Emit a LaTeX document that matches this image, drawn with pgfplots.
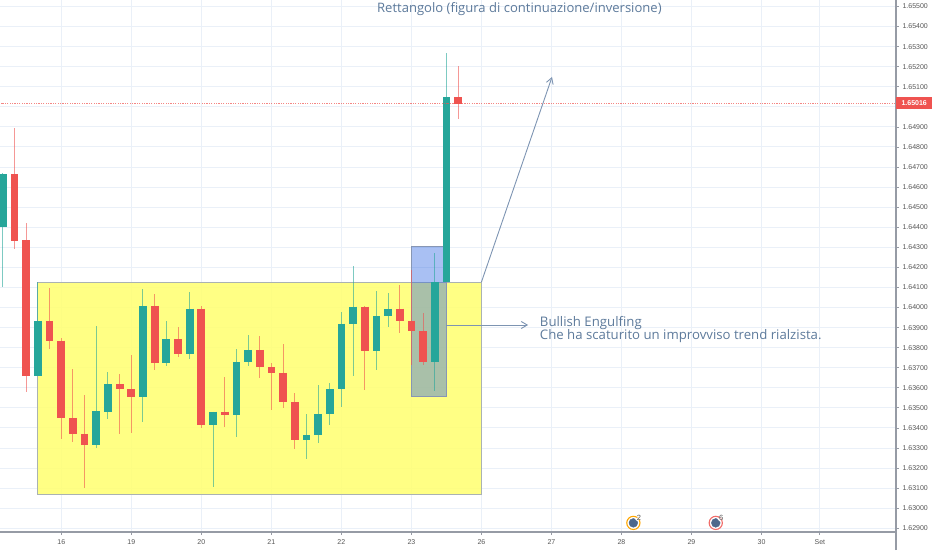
\documentclass[border=0pt]{standalone}
\usepackage{pgfplots}
\usepackage{pgfplotstable}
\usepackage{fontspec}
\setmainfont{Liberation Sans}
\newfontfamily\notefont{Open Sans}
\pgfplotsset{compat=1.18}
\usetikzlibrary{arrows.meta}
\definecolor{upc}{RGB}{38,166,154}
\definecolor{dnc}{RGB}{239,83,80}
\definecolor{gridc}{RGB}{234,240,248}
\definecolor{axc}{RGB}{150,155,165}
\definecolor{tickc}{RGB}{85,85,85}
\definecolor{notec}{RGB}{93,122,155}
\definecolor{arrowc}{RGB}{125,148,178}
\definecolor{rectc}{RGB}{170,178,178}
\definecolor{bluec}{RGB}{135,150,180}
\definecolor{yel}{RGB}{255,255,115}
\definecolor{blu}{RGB}{41,98,225}
\definecolor{moon}{RGB}{77,104,140}
\pgfplotstableread{
x top bot hi lo
-5 1.64665 1.64403 1.64669 1.64101
-2 1.63934 1.63660 1.64127 1.63660
3 1.63483 1.63314 1.63910 1.63302
4 1.63618 1.63481 1.63677 1.63443
7 1.64008 1.63556 1.64091 1.63428
9 1.63843 1.63722 1.63932 1.63710
11 1.63994 1.63769 1.64076 1.63742
13 1.63481 1.63415 1.63481 1.63107
15 1.63727 1.63465 1.63793 1.63356
16 1.63789 1.63727 1.63862 1.63709
21 1.63365 1.63340 1.63468 1.63247
22 1.63470 1.63365 1.63614 1.63327
23 1.63594 1.63470 1.63623 1.63413
24 1.63920 1.63594 1.63979 1.63503
25 1.64004 1.63920 1.64207 1.63660
27 1.63956 1.63785 1.64081 1.63690
28 1.63994 1.63956 1.64071 1.63903
32 1.64126 1.63729 1.64270 1.63584
33 1.65048 1.64126 1.65270 1.64126
}\upt
\pgfplotstableread{
x top bot hi lo
-4 1.64664 1.64333 1.64893 1.64292
-3 1.64335 1.63660 1.64423 1.63581
-1 1.63934 1.63833 1.64099 1.63792
0 1.63835 1.63448 1.63847 1.63345
1 1.63450 1.63368 1.63692 1.63329
2 1.63370 1.63314 1.63566 1.63099
5 1.63618 1.63594 1.63667 1.63371
6 1.63594 1.63556 1.63762 1.63375
8 1.64008 1.63724 1.64069 1.63689
10 1.63843 1.63769 1.63902 1.63752
12 1.63994 1.63415 1.64006 1.63401
14 1.63481 1.63465 1.63652 1.63403
17 1.63789 1.63702 1.63857 1.63648
18 1.63702 1.63675 1.63722 1.63491
19 1.63675 1.63529 1.63817 1.63501
20 1.63529 1.63340 1.63576 1.63294
26 1.64004 1.63785 1.64008 1.63589
29 1.63994 1.63933 1.64112 1.63875
30 1.63933 1.63882 1.64187 1.63714
31 1.63882 1.63729 1.63974 1.63714
34 1.65048 1.65016 1.65204 1.64938
}\dnt
\newcommand{\candles}[2]{%
 \addplot[draw=none,mark=none,forget plot,error bars/.cd,y dir=both,y explicit,error mark=none,
   error bar style={#2,line width=1pt,opacity=.6}]
   table[x=x,y=top,y error plus expr=\thisrow{hi}-\thisrow{top},y error minus expr=\thisrow{top}-\thisrow{lo}]{#1};
 \addplot[draw=none,mark=none,forget plot,error bars/.cd,y dir=minus,y explicit,error mark=none,
   error bar style={#2,line width=7.7pt}]
   table[x=x,y=top,y error minus expr=\thisrow{top}-\thisrow{bot}]{#1};
}
\begin{document}
\begin{tikzpicture}[x=1pt,y=1pt]
\useasboundingbox (0,0) rectangle (932,550);
\begin{axis}[
 at={(0pt,18pt)},anchor=south west,scale only axis,width=896pt,height=532pt,
 xmin=-5.253,xmax=71.525,ymin=1.628816,ymax=1.655323,
 axis x line=bottom,axis y line=right,axis line style={-,axc,line width=1.2pt},
 clip mode=individual,
 grid=both,major grid style={gridc,line width=1pt},
 xtick={0,6,12,18,24,30,36,42,48,54,60,65},
 xticklabels={16,19,20,21,22,23,26,27,28,29,30,Set},
 ytick={1.629,1.630,1.631,1.632,1.633,1.634,1.635,1.636,1.637,1.638,1.639,1.640,1.641,1.642,1.643,1.644,1.645,1.646,1.647,1.648,1.649,1.650,1.651,1.652,1.653,1.654,1.655},
 scaled y ticks=false,
 yticklabel style={/pgf/number format/.cd,fixed,fixed zerofill,precision=5,assume math mode=true},
 ticklabel style={font=\fontsize{7}{8}\selectfont,text=tickc},
 tick style={axc,line width=.8pt},
 tick align=outside,major tick length=3pt,
 xticklabel shift=1pt,yticklabel shift=0pt,
]
\addplot[fill=yel,fill opacity=.88,draw=rectc,line width=1pt,forget plot] coordinates {(-2.04,1.63068)(36,1.63068)(36,1.64127)(-2.04,1.64127)} --cycle;
\addplot[fill=blu,fill opacity=.4,draw=bluec,line width=1pt,forget plot] coordinates {(29.99,1.63559)(33,1.63559)(33,1.64302)(29.99,1.64302)} --cycle;
\candles{\upt}{upc}
\candles{\dnt}{dnc}
\addplot[draw=none,mark=none,forget plot,error bars/.cd,x dir=both,x explicit,error mark=none,
  error bar style={dnc,line width=.8pt,opacity=.7,dash pattern=on 1.2pt off 1.2pt}]
  coordinates {(33.1,1.65016) +- (38.3,0)};
\addplot[draw=arrowc,line width=.9pt,-{Straight Barb[length=6pt,width=7pt]},forget plot] coordinates {(36,1.64127)(42.05,1.65149)};
\addplot[draw=arrowc,line width=.9pt,-{Straight Barb[length=6pt,width=7pt]},forget plot] coordinates {(33,1.63913)(40,1.63913)};
% events
\addplot[only marks,mark=*,mark size=6.6pt,mark options={draw=orange!70!yellow,fill=white,line width=1.1pt},forget plot] coordinates {(49.02,1.62927)};
\addplot[only marks,mark=*,mark size=6.6pt,mark options={draw=dnc!85!white,fill=white,line width=1.1pt},forget plot] coordinates {(56.08,1.62927)};
\addplot[only marks,mark=*,mark size=4.4pt,mark options={draw=moon,fill=moon},forget plot] coordinates {(49.02,1.62927)(56.08,1.62927)};
\addplot[only marks,mark=*,mark size=1.6pt,mark options={draw=white,fill=white},forget plot] coordinates {(49.35,1.62945)(56.41,1.62945)};
\node[font=\fontsize{7.5}{8}\selectfont,text=tickc,inner sep=0] at (axis cs:49.5,1.62954) {2};
\node[font=\fontsize{7.5}{8}\selectfont,text=tickc,inner sep=0] at (axis cs:56.55,1.62954) {6};
% texts
\node[font=\notefont\fontsize{13.05}{15}\selectfont,text=notec,anchor=west,inner sep=0] at (axis cs:27.05,1.65488) {Rettangolo (figura di continuazione/inversione)};
\node[font=\notefont\fontsize{13.2}{15}\selectfont,text=notec,anchor=west,inner sep=0] at (axis cs:41,1.63923) {Bullish Engulfing};
\node[font=\notefont\fontsize{13.2}{15}\selectfont,text=notec,anchor=west,inner sep=0] at (axis cs:41,1.63858) {Che ha scaturito un improvviso trend rialzista.};
\end{axis}
\draw[axc,line width=1.2pt] (896,0) -- (896,18);
\node[fill=dnc,text=white,inner sep=0,minimum width=36pt,minimum height=11.6pt,anchor=west,font=\bfseries\fontsize{7}{8}\selectfont] at (896,447) {1.65016};
\end{tikzpicture}
\end{document}
